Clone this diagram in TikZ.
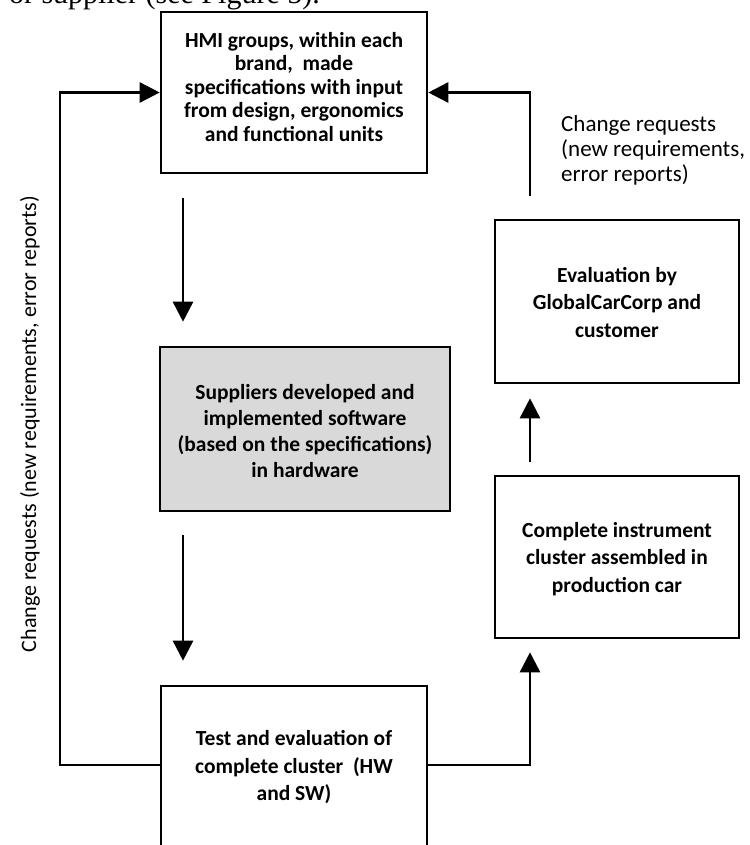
\documentclass[tikz,border=0pt]{standalone}
\usepackage{fontspec}
\setmainfont{Carlito}
\newfontfamily\seriffont{Liberation Serif}
\usetikzlibrary{arrows.meta}
\begin{document}
\begin{tikzpicture}[x=1pt,y=-1pt,
  box/.style={draw=black, line width=2.6pt, inner sep=0pt},
  btxt/.style={align=center, inner sep=0pt, font=\bfseries\fontsize{21.5}{#1}\selectfont},
  btxt/.default=27.5,
  arr/.style={line width=2.6pt, -{Triangle[width=20pt,length=20pt]}},
  lbl/.style={inner sep=0pt, font=\fontsize{#1}{25}\selectfont}]
\useasboundingbox (0,0) rectangle (749,845);
\begin{scope}
\clip (0,0) rectangle (749,845);
\node[anchor=base east, font=\seriffont\fontsize{30}{30}\selectfont, inner sep=0pt] (topline) at (320,4) {or supplier (see Figure 5).};
% boxes
\node[box, minimum width=266pt, minimum height=161pt] (hmi) at (294,92.5) {};
\node[box, fill=black!15, minimum width=290pt, minimum height=164pt] (mid) at (305,429) {};
\node[box, minimum width=266pt, minimum height=164pt] (bot) at (294,768) {};
\node[box, minimum width=244pt, minimum height=163pt] (eval) at (617,301.5) {};
\node[box, minimum width=244pt, minimum height=162pt] (comp) at (617,557) {};
% box texts
\node[btxt=23.5] (hmiT) at (294,87) {HMI groups, within each\\brand,~ made\\specifications with input\\from design, ergonomics\\and functional units};
\node[btxt=26] (midT) at (305,431) {Suppliers developed and\\implemented software\\(based on the specifications)\\in hardware};
\node[btxt] (botT) at (294,767.5) {Test and evaluation of\\complete cluster~ (HW\\and SW)};
\node[btxt] (evalT) at (617,302.5) {Evaluation by\\GlobalCarCorp and\\customer};
\node[btxt] (compT) at (617,559) {Complete instrument\\cluster assembled in\\production car};
% labels
\node[lbl=23, anchor=west, align=left] (crR) at (561,150) {Change requests\\(new requirements,\\error reports)};
\node[lbl=22, rotate=90] (crL) at (30,424) {Change requests (new requirements, error reports)};
% connectors
\coordinate (xL) at (60,0);
\coordinate (xR) at (530,0);
\coordinate (xD) at (183,0);
\coordinate (yB) at (0,765);
\draw[arr] (bot.west |- yB) -- (xL |- yB) -- (xL |- hmi.west) -- (hmi.west);
\draw[arr, shorten <=23pt] (eval.north -| xR) -- (xR |- hmi.east) -- (hmi.east);
\draw[arr, shorten <=24pt, shorten >=24pt] (hmi.south -| xD) -- (mid.north -| xD);
\draw[arr, shorten <=23pt, shorten >=24pt] (mid.south -| xD) -- (bot.north -| xD);
\draw[arr, shorten <=13pt, shorten >=14pt] (comp.north -| xR) -- (eval.south -| xR);
\draw[arr, shorten >=13pt] (bot.east |- yB) -| (comp.south -| xR);
\end{scope}
\end{tikzpicture}
\end{document}
